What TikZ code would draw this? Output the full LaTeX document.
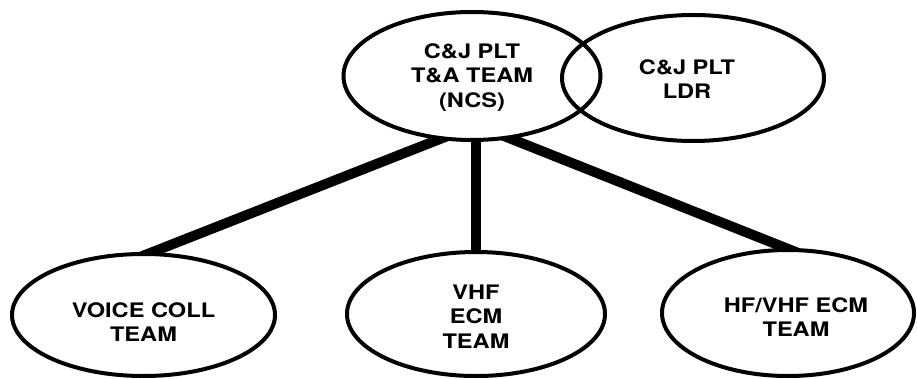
\documentclass[tikz,border=0pt]{standalone}
\usepackage{fontspec}
\setmainfont{TeX Gyre Heros}[FakeStretch=1.18]
\usetikzlibrary{shapes.geometric,backgrounds,calc}
\newcommand{\stk}[2]{\raisebox{#1}[0pt][0pt]{\begin{tabular}{@{}c@{}}#2\end{tabular}}}
\begin{document}
\begin{tikzpicture}[x=1pt,y=1pt,
  oval/.style={ellipse,draw=black,line width=4pt,inner sep=0pt,
    font=\bfseries\fontsize{20}{24.5}\selectfont,align=center},
  link/.style={line width=10pt,draw=black}]
\useasboundingbox (0,0) rectangle (917,-379);
\node[oval,fill=white,minimum width=257pt,minimum height=128pt] (ncs) at (472,-76) {\stk{-7pt}{C\&J PLT\\T\&A TEAM\\(NCS)}};
\node[oval,minimum width=262pt,minimum height=126pt] (ldr) at (693,-78) {\hspace*{-12pt}\stk{-9pt}{C\&J PLT\\LDR}};
\node[oval,fill=white,minimum width=263pt,minimum height=122pt] (voice) at (143.5,-315) {\stk{-15pt}{VOICE COLL\\TEAM}};
\node[oval,fill=white,minimum width=258pt,minimum height=124pt] (vhf) at (476,-314) {\stk{-10pt}{VHF\\ECM\\TEAM}};
\node[oval,fill=white,minimum width=252pt,minimum height=126pt] (hf) at (788,-313) {\hspace*{16pt}\stk{-12pt}{HF/VHF ECM\\TEAM}};
\begin{pgfonlayer}{background}
\draw[link] ($(ncs.242)!-14pt!(voice.82)$) -- ($(voice.82)!-14pt!(ncs.242)$);
\draw[link] ($(ncs.south -| vhf.north)+(0,10pt)$) -- ($(vhf.north)-(0,10pt)$);
\draw[link] ($(ncs.302)!-14pt!(hf.92)$) -- ($(hf.92)!-14pt!(ncs.302)$);
\end{pgfonlayer}
\end{tikzpicture}
\end{document}
